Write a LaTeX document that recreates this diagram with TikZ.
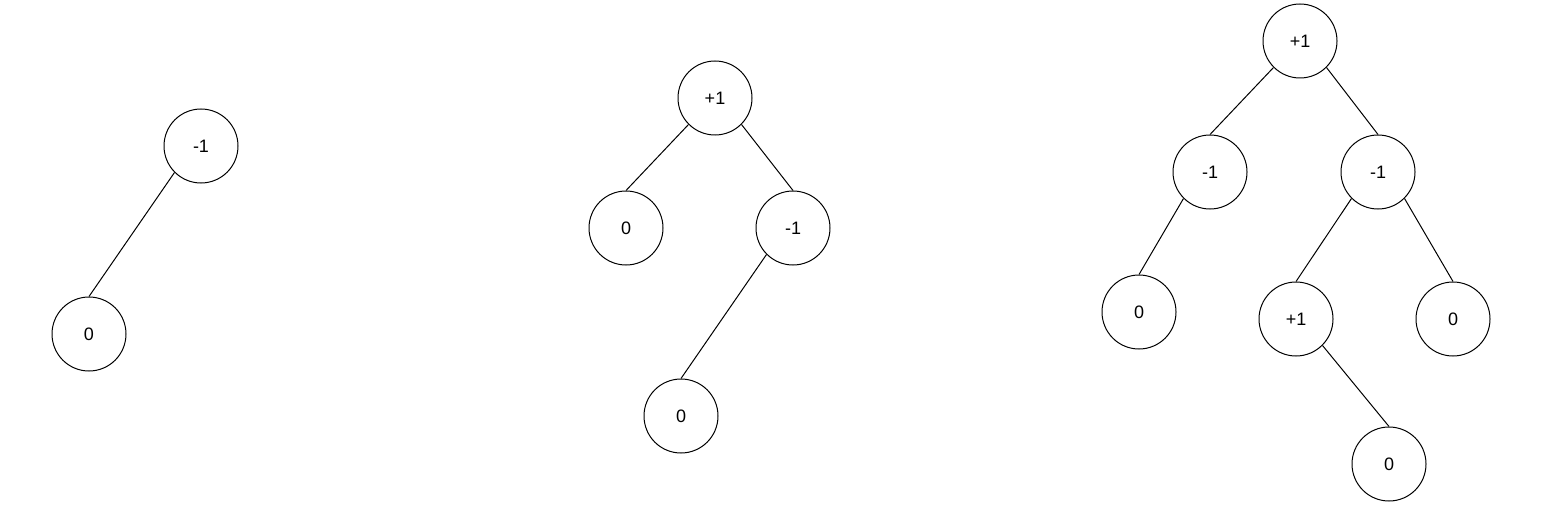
\documentclass[tikz,border=0pt]{standalone}
\usepackage{fontspec}
\setmainfont{Liberation Sans}
\begin{document}
\begin{tikzpicture}[x=1pt,y=-1pt,
  avl/.style={circle,draw=black,line width=1pt,minimum size=74pt,inner sep=0pt,
    font=\fontsize{18}{20}\selectfont},
  edge/.style={draw=black,line width=1pt}]
\useasboundingbox (0,0) rectangle (1555,508);
% tree 1
\node[avl] (a1) at (201,146) {-1};
\node[avl] (a2) at (89,334) {0};
\draw[edge] (a1.south west) -- (a2.north);
% tree 2
\node[avl] (b1) at (715,98) {+1};
\node[avl] (b2) at (626,228) {0};
\node[avl] (b3) at (793,228) {-1};
\node[avl] (b4) at (681,416) {0};
\draw[edge] (b1.south west) -- (b2.north);
\draw[edge] (b1.south east) -- (b3.north);
\draw[edge] (b3.south west) -- (b4.north);
% tree 3
\node[avl] (c1) at (1300,41) {+1};
\node[avl] (c2) at (1210,172) {-1};
\node[avl] (c3) at (1378,172) {-1};
\node[avl] (c4) at (1139,312) {0};
\node[avl] (c5) at (1296,319) {+1};
\node[avl] (c6) at (1453,319) {0};
\node[avl] (c7) at (1389,464) {0};
\draw[edge] (c1.south west) -- (c2.north);
\draw[edge] (c1.south east) -- (c3.north);
\draw[edge] (c2.south west) -- (c4.north);
\draw[edge] (c3.south west) -- (c5.north);
\draw[edge] (c3.south east) -- (c6.north);
\draw[edge] (c5.south east) -- (c7.north);
\end{tikzpicture}
\end{document}
